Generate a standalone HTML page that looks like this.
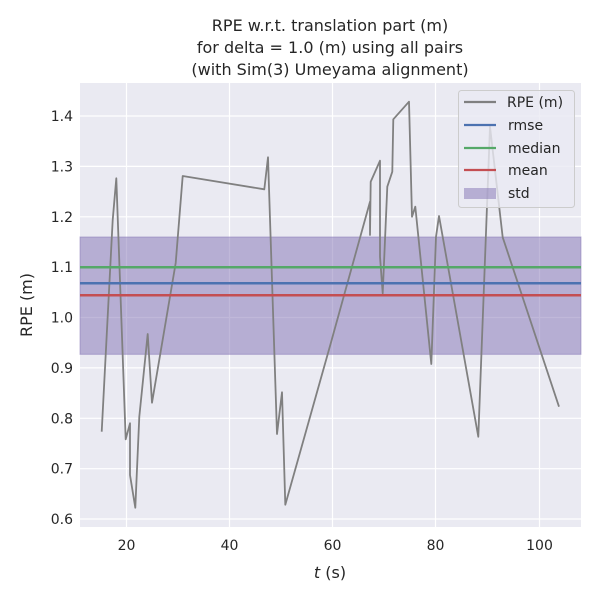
<!DOCTYPE html>
<html><head><meta charset="utf-8"><style>
body{margin:0;background:#fff}
svg text{font-family:"DejaVu Sans","Liberation Sans",sans-serif;fill:#262626}
</style></head><body>
<svg width="600" height="600" xmlns="http://www.w3.org/2000/svg">
<rect width="600" height="600" fill="#fff"/>
<text x="330" y="31" font-size="16" text-anchor="middle">RPE w.r.t. translation part (m)</text>
<text x="330" y="53" font-size="16" text-anchor="middle">for delta = 1.0 (m) using all pairs</text>
<text x="330" y="75" font-size="16" text-anchor="middle">(with Sim(3) Umeyama alignment)</text>
<rect x="80" y="83" width="501" height="444" fill="#eaeaf2"/>
<g stroke="#fff" stroke-width="1.2">
<line x1="126.5" y1="83" x2="126.5" y2="527"/><line x1="229.5" y1="83" x2="229.5" y2="527"/>
<line x1="332.5" y1="83" x2="332.5" y2="527"/><line x1="435.5" y1="83" x2="435.5" y2="527"/>
<line x1="539.5" y1="83" x2="539.5" y2="527"/>
<line x1="80" y1="116" x2="581" y2="116"/><line x1="80" y1="166.4" x2="581" y2="166.4"/>
<line x1="80" y1="216.8" x2="581" y2="216.8"/><line x1="80" y1="267.2" x2="581" y2="267.2"/>
<line x1="80" y1="317.5" x2="581" y2="317.5"/><line x1="80" y1="367.9" x2="581" y2="367.9"/>
<line x1="80" y1="418.3" x2="581" y2="418.3"/><line x1="80" y1="468.7" x2="581" y2="468.7"/>
<line x1="80" y1="519" x2="581" y2="519"/>
</g>
<rect x="80" y="237" width="501" height="117.3" fill="#8172b3" fill-opacity="0.5" stroke="#8172b3" stroke-opacity="0.5"/>
<polyline fill="none" stroke="#808080" stroke-width="1.8" stroke-linejoin="round" points="101.7,431.7 112.7,220 116.3,178.3 125.7,439.3 130,423.3 130,475 135.3,507.7 139.3,416.7 147.7,334 152,402.7 175.7,263 182.7,176 264.3,189.3 268,157.3 277,434 282,392.3 285.3,504.7 330,346 370,201.7 370,235 370.7,181.7 380,160.7 380,256.7 382.7,293.3 387.3,186.7 392.3,171.7 393.3,119.3 409,101.7 412,216.7 415.3,206.7 431.3,364 436,236.7 439,216 478.3,436.7 490,126.7 502.7,237.3 559,406.7"/>
<line x1="80" y1="267.3" x2="581" y2="267.3" stroke="#55a868" stroke-width="2.5"/>
<line x1="80" y1="283.3" x2="581" y2="283.3" stroke="#4c72b0" stroke-width="2.5"/>
<line x1="80" y1="295.3" x2="581" y2="295.3" stroke="#c44e52" stroke-width="2.5"/>
<g font-size="14" text-anchor="end">
<text x="73" y="121">1.4</text><text x="73" y="171.4">1.3</text><text x="73" y="221.8">1.2</text>
<text x="73" y="272.2">1.1</text><text x="73" y="322.5">1.0</text><text x="73" y="372.9">0.9</text>
<text x="73" y="423.3">0.8</text><text x="73" y="473.7">0.7</text><text x="73" y="524">0.6</text>
</g>
<g font-size="14" text-anchor="middle">
<text x="126.5" y="550">20</text><text x="229.5" y="550">40</text><text x="332.5" y="550">60</text>
<text x="435.5" y="550">80</text><text x="539.5" y="550">100</text>
</g>
<text x="330" y="578" font-size="16" text-anchor="middle"><tspan font-style="italic">t</tspan> (s)</text>
<text transform="translate(32,305) rotate(-90)" font-size="16" text-anchor="middle">RPE (m)</text>
<rect x="458.5" y="90.5" width="116" height="117" rx="3" fill="#eaeaf2" fill-opacity="0.8" stroke="#ccc"/>
<g stroke-width="2.2">
<line x1="464" y1="102" x2="496" y2="102" stroke="#808080"/>
<line x1="464" y1="125" x2="496" y2="125" stroke="#4c72b0"/>
<line x1="464" y1="148" x2="496" y2="148" stroke="#55a868"/>
<line x1="464" y1="170" x2="496" y2="170" stroke="#c44e52"/>
</g>
<rect x="464" y="188" width="32" height="11" fill="#8172b3" fill-opacity="0.5"/>
<g font-size="14">
<text x="507" y="107">RPE (m)</text><text x="508" y="130">rmse</text>
<text x="508" y="153">median</text><text x="508" y="175">mean</text><text x="508" y="198">std</text>
</g>
</svg>
</body></html>
